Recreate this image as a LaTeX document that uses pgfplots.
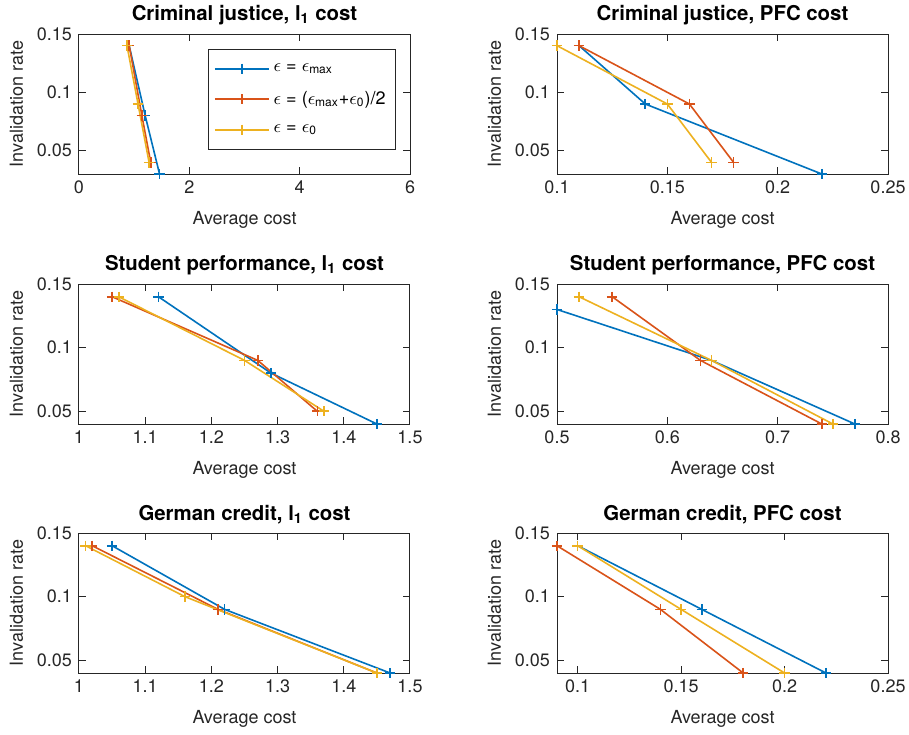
\documentclass[border=0pt]{standalone}
\usepackage{fontspec}
\setmainfont{TeX Gyre Heros}
\usepackage{pgfplots}
\pgfplotsset{compat=1.18}
\definecolor{mblue}{RGB}{0,114,189}
\definecolor{mred}{RGB}{217,83,25}
\definecolor{myellow}{RGB}{237,177,32}
\definecolor{axgray}{RGB}{38,38,38}

\pgfplotsset{
  panel/.style={
    scale only axis, width=165.5pt, height=70pt,
    anchor=north west,
    axis line style={axgray, line width=0.5pt},
    tick align=inside, tick pos=both,
    major tick length=3.3pt,
    tick style={axgray, line width=0.5pt},
    ticklabel style={font=\fontsize{9}{10}\selectfont, text=axgray},
    scaled ticks=false,
    xticklabel style={/pgf/number format/fixed, /pgf/number format/assume math mode=true},
    yticklabel style={/pgf/number format/fixed, /pgf/number format/assume math mode=true},
    label style={font=\fontsize{9}{10}\selectfont, text=axgray},
    xlabel style={yshift=-2pt},
    title style={font=\fontsize{10.2}{12}\selectfont\bfseries, yshift=-5pt},
    xlabel={Average cost}, ylabel={Invalidation rate},
    ytick={0.05,0.1,0.15}, ymax=0.15,
    every axis plot/.append style={line width=0.8pt, mark=+, mark size=2.6pt, mark options={solid}},
    legend image code/.code={\draw[mark repeat=2,mark phase=2] plot coordinates {(0pt,0pt)(13.5pt,0pt)(27pt,0pt)};},
  },
}

\begin{document}
\begin{tikzpicture}
\path[use as bounding box] (0,0) rectangle (454.5pt,-367pt);

% row 1
\begin{axis}[panel, at={(39.5pt,-17pt)},
  title={Criminal justice, l\textsubscript{1} cost},
  xmin=0, xmax=6, xtick={0,2,4,6}, ymin=0.03,
  legend style={at={(0.958,0.893)}, anchor=north east, draw=axgray, line width=0.5pt,
    font=\fontsize{9}{10.5}\selectfont, cells={anchor=west}, row sep=4.5pt,
    inner xsep=3pt, inner ysep=5pt},
]
\addplot[mblue] coordinates {(0.91,0.14)(1.20,0.08)(1.46,0.03)};
\addlegendentry{$\epsilon$ = $\epsilon$\textsubscript{max}}
\addplot[mred] coordinates {(0.91,0.14)(1.14,0.08)(1.30,0.04)};
\addlegendentry{$\epsilon$ = ($\epsilon$\textsubscript{max}+$\epsilon$\textsubscript{0})/2}
\addplot[myellow] coordinates {(0.87,0.14)(1.07,0.09)(1.27,0.04)};
\addlegendentry{$\epsilon$ = $\epsilon$\textsubscript{0}}
\end{axis}

\begin{axis}[panel, at={(278.5pt,-17pt)},
  title={Criminal justice, PFC cost},
  xmin=0.1, xmax=0.25, xtick={0.1,0.15,0.2,0.25}, ymin=0.03,
]
\addplot[mblue] coordinates {(0.11,0.14)(0.14,0.09)(0.22,0.03)};
\addplot[mred] coordinates {(0.11,0.14)(0.16,0.09)(0.18,0.04)};
\addplot[myellow] coordinates {(0.10,0.14)(0.15,0.09)(0.17,0.04)};
\end{axis}

% row 2
\begin{axis}[panel, at={(39.5pt,-142pt)},
  title={Student performance, l\textsubscript{1} cost},
  xmin=1, xmax=1.5, xtick={1,1.1,1.2,1.3,1.4,1.5}, ymin=0.04,
]
\addplot[mblue] coordinates {(1.12,0.14)(1.29,0.08)(1.45,0.04)};
\addplot[mred] coordinates {(1.05,0.14)(1.27,0.09)(1.36,0.05)};
\addplot[myellow] coordinates {(1.06,0.14)(1.25,0.09)(1.37,0.05)};
\end{axis}

\begin{axis}[panel, at={(278.5pt,-142pt)},
  title={Student performance, PFC cost},
  xmin=0.5, xmax=0.8, xtick={0.5,0.6,0.7,0.8}, ymin=0.04,
]
\addplot[mblue] coordinates {(0.50,0.13)(0.64,0.09)(0.77,0.04)};
\addplot[mred] coordinates {(0.55,0.14)(0.63,0.09)(0.74,0.04)};
\addplot[myellow] coordinates {(0.52,0.14)(0.64,0.09)(0.75,0.04)};
\end{axis}

% row 3
\begin{axis}[panel, at={(39.5pt,-266.5pt)},
  title={German credit, l\textsubscript{1} cost},
  xmin=1, xmax=1.5, xtick={1,1.1,1.2,1.3,1.4,1.5}, ymin=0.04,
]
\addplot[mblue] coordinates {(1.05,0.14)(1.22,0.09)(1.47,0.04)};
\addplot[mred] coordinates {(1.02,0.14)(1.21,0.09)(1.45,0.04)};
\addplot[myellow] coordinates {(1.01,0.14)(1.16,0.10)(1.45,0.04)};
\end{axis}

\begin{axis}[panel, at={(278.5pt,-266.5pt)},
  title={German credit, PFC cost},
  xmin=0.09, xmax=0.25, xtick={0.1,0.15,0.2,0.25}, ymin=0.04,
]
\addplot[mblue] coordinates {(0.10,0.14)(0.16,0.09)(0.22,0.04)};
\addplot[mred] coordinates {(0.09,0.14)(0.14,0.09)(0.18,0.04)};
\addplot[myellow] coordinates {(0.10,0.14)(0.15,0.09)(0.20,0.04)};
\end{axis}
\end{tikzpicture}
\end{document}
